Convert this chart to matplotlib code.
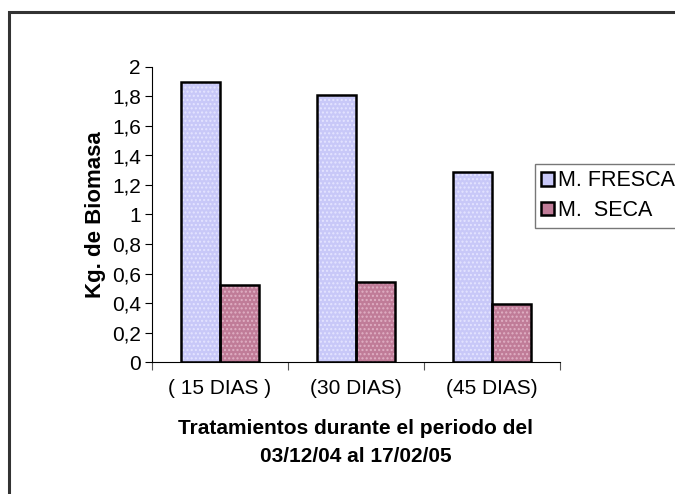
import numpy as np
import matplotlib.pyplot as plt
from matplotlib.patches import Patch, Rectangle

categories = ["( 15 DIAS )", "(30 DIAS)", "(45 DIAS)"]
fresca = [1.9, 1.81, 1.29]
seca = [0.52, 0.54, 0.39]
yticks = [0, 0.2, 0.4, 0.6, 0.8, 1, 1.2, 1.4, 1.6, 1.8, 2]

plt.rcParams['font.family'] = ['Liberation Sans', 'DejaVu Sans']
plt.rcParams['hatch.linewidth'] = 1.0

fig = plt.figure(figsize=(6.75, 4.94), dpi=100)
ax = fig.add_axes([152 / 675, 1 - 362 / 494, 408 / 675, 295 / 494])

# outer chart frame (only left and top edges visible in the reference)
fig.patches.append(Rectangle((9 / 675, -0.1), 1.2, (494 - 12) / 494 + 0.1,
                             transform=fig.transFigure, fill=False,
                             edgecolor='#333333', linewidth=2.2))

x = np.arange(len(categories))
w = 0.286
c_fresca, h_fresca = '#c8c8f8', '#e4e4ff'
c_seca, h_seca = '#c07c98', '#e0b0c4'

ax.bar(x - w / 2, fresca, w, color=c_fresca, hatch='....', edgecolor=h_fresca, linewidth=0)
ax.bar(x + w / 2, seca, w, color=c_seca, hatch='....', edgecolor=h_seca, linewidth=0)
ax.bar(x - w / 2, fresca, w, fill=False, edgecolor='black', linewidth=1.8)
ax.bar(x + w / 2, seca, w, fill=False, edgecolor='black', linewidth=1.8)

ax.set_xlim(-0.5, 2.5)
ax.set_ylim(0, 2)
ax.set_yticks(yticks)
ax.set_yticklabels([f"{v:g}".replace('.', ',') for v in yticks], fontsize=15)
ax.set_xticks([-0.5, 0.5, 1.5, 2.5])
ax.set_xticklabels([])
ax.set_xticks(x, minor=True)
ax.set_xticklabels(categories, minor=True, fontsize=15)
ax.tick_params(axis='x', which='minor', length=0, pad=12)
ax.tick_params(axis='x', which='major', length=6, color='#555555')
ax.tick_params(axis='y', length=5, pad=3)

for s in ['top', 'right']:
    ax.spines[s].set_visible(False)

ax.set_ylabel("Kg. de Biomasa", fontsize=16, fontweight='bold', labelpad=4)
ax.set_xlabel("Tratamientos durante el periodo del\n03/12/04 al 17/02/05",
              fontsize=15, fontweight='bold', labelpad=15, linespacing=1.6)

handles = [Patch(facecolor=c_fresca, edgecolor='black', linewidth=1.8),
           Patch(facecolor=c_seca, edgecolor='black', linewidth=1.8)]
leg = fig.legend(handles, ["M. FRESCA", "M.  SECA"], loc='upper left',
                 bbox_to_anchor=(535 / 675, 1 - 164 / 494), fontsize=15.5,
                 frameon=True, fancybox=False, handlelength=0.6, handleheight=0.6,
                 handletextpad=0.15, borderpad=0.3, labelspacing=0.4,
                 borderaxespad=0)
leg.get_frame().set_edgecolor('#555555')
leg.get_frame().set_linewidth(1.0)

fig.savefig("out.png", dpi=100)
